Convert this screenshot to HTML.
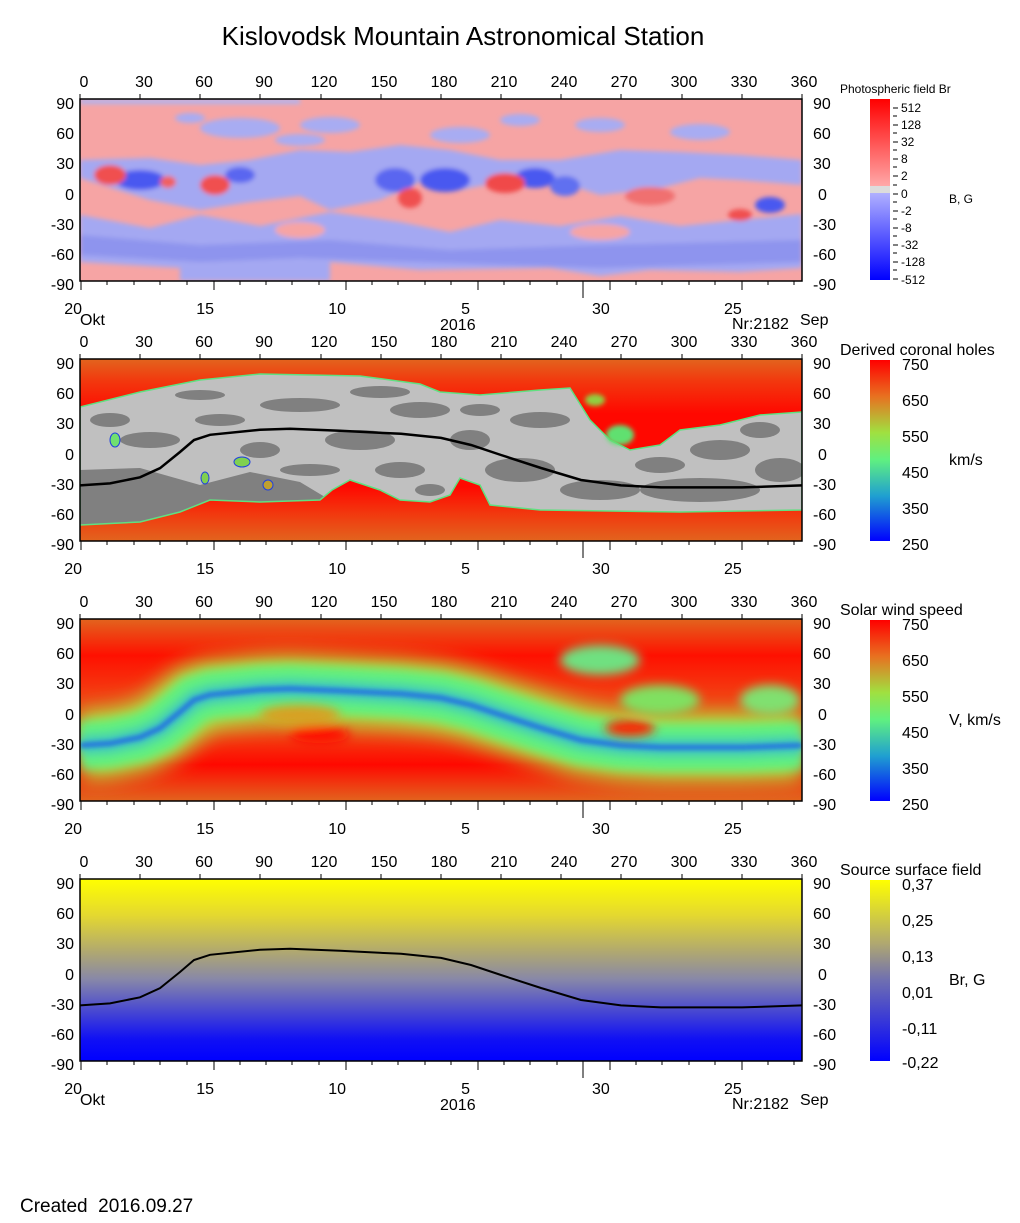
<!DOCTYPE html>
<html><head><meta charset="utf-8"><style>
html,body{margin:0;padding:0;background:#fff}
svg{display:block}
text{font-family:"Liberation Sans",sans-serif;fill:#000}
</style></head><body>
<svg width="1020" height="1223" viewBox="0 0 1020 1223" xmlns="http://www.w3.org/2000/svg">
<defs>
<filter id="b2" filterUnits="userSpaceOnUse" x="0" y="0" width="1020" height="1223"><feGaussianBlur stdDeviation="2.5"/></filter>
<filter id="b4" filterUnits="userSpaceOnUse" x="0" y="0" width="1020" height="1223"><feGaussianBlur stdDeviation="5"/></filter>
<filter id="b8" filterUnits="userSpaceOnUse" x="0" y="0" width="1020" height="1223"><feGaussianBlur stdDeviation="10"/></filter>
<clipPath id="c1"><rect x="80" y="99" width="722" height="182"/></clipPath>
<clipPath id="c2"><rect x="80" y="359" width="722" height="182"/></clipPath>
<clipPath id="c3"><rect x="80" y="619" width="722" height="182"/></clipPath>
<clipPath id="gp"><path id="gpath" d="M80,407 L140,392 L200,380 L260,374 L360,376 L420,384 L440,392 L480,395 L540,390 L570,388 L590,420 L610,440 L630,450 L660,445 L680,430 L720,425 L760,415 L802,412 L802,510 L680,512 L540,510 L490,505 L480,485 L460,478 L450,495 L430,502 L400,500 L380,490 L350,480 L332,490 L320,500 L260,502 L210,500 L180,512 L140,522 L80,525 Z"/></clipPath>
<linearGradient id="g2" x1="0" y1="0" x2="0" y2="1">
<stop offset="0" stop-color="#e2641e"/><stop offset="0.12" stop-color="#f2380e"/><stop offset="0.3" stop-color="#ff0800"/><stop offset="0.7" stop-color="#ff0800"/><stop offset="0.85" stop-color="#f2380e"/><stop offset="1" stop-color="#e2641e"/></linearGradient>
<linearGradient id="g3" x1="0" y1="0" x2="0" y2="1">
<stop offset="0" stop-color="#e2641e"/><stop offset="0.2" stop-color="#ff1000"/><stop offset="0.4" stop-color="#f43a10"/><stop offset="0.6" stop-color="#f04a14"/><stop offset="0.8" stop-color="#ff0800"/><stop offset="1" stop-color="#e2641e"/></linearGradient>
<linearGradient id="g4" x1="0" y1="0" x2="0" y2="1">
<stop offset="0" stop-color="#ffff00"/><stop offset="0.2" stop-color="#e4d830"/><stop offset="0.4" stop-color="#b0a870"/><stop offset="0.55" stop-color="#8888a8"/><stop offset="0.72" stop-color="#4a4ad0"/><stop offset="0.88" stop-color="#1010f4"/><stop offset="1" stop-color="#0000ff"/></linearGradient>
<linearGradient id="cb1" x1="0" y1="0" x2="0" y2="1">
<stop offset="0" stop-color="#ff0000"/><stop offset="0.48" stop-color="#ffa8a8"/><stop offset="0.48" stop-color="#dcdcdc"/><stop offset="0.52" stop-color="#dcdcdc"/><stop offset="0.52" stop-color="#b0b0ff"/><stop offset="1" stop-color="#0000ff"/></linearGradient>
<linearGradient id="cbr" x1="0" y1="0" x2="0" y2="1">
<stop offset="0" stop-color="#ff0000"/><stop offset="0.2" stop-color="#e87020"/><stop offset="0.4" stop-color="#a0e040"/><stop offset="0.55" stop-color="#60f080"/><stop offset="0.75" stop-color="#20a0d0"/><stop offset="1" stop-color="#0000ff"/></linearGradient>
<linearGradient id="cb4" x1="0" y1="0" x2="0" y2="1">
<stop offset="0" stop-color="#ffff00"/><stop offset="0.35" stop-color="#b0a870"/><stop offset="0.55" stop-color="#7070b0"/><stop offset="1" stop-color="#0000ff"/></linearGradient>
<path id="nl" d="M80,225.4 L110,223.4 L140,217.3 L160,208.2 L180,192 L194,180 L210,174.8 L260,169.8 L290,168.8 L340,170.8 L401,173.8 L441,177.9 L471,185 L501,195 L541,208 L581,220 L621,225.4 L661,227.4 L742,227.4 L802,225.4" fill="none"/>
</defs>

<text x="463" y="45" font-size="26" text-anchor="middle">Kislovodsk Mountain Astronomical Station</text>

<!-- PANEL 1 -->
<g clip-path="url(#c1)">
<rect x="80" y="99" width="722" height="182" fill="#f6a4a4"/>
<g filter="url(#b2)">
<rect x="80" y="99" width="220" height="5" fill="#b0b4f0"/>
<path d="M80,160 L150,158 L200,165 L250,160 L300,150 L350,152 L400,145 L450,150 L500,160 L560,160 L620,150 L680,152 L740,155 L802,160 L802,185 L740,180 L700,178 L660,188 L600,195 L560,182 L500,182 L450,192 L420,182 L380,200 L330,210 L300,196 L250,202 L200,210 L150,200 L80,178 Z" fill="#a4a8f2"/>
<path d="M80,215 L150,228 L200,215 L260,226 L330,212 L400,222 L450,232 L500,220 L560,226 L620,216 L680,226 L740,220 L802,214 L802,268 L740,272 L650,270 L600,276 L550,268 L420,270 L330,262 L330,281 L180,281 L180,268 L80,262 Z" fill="#a4a8f2"/>
<path d="M80,235 L200,245 L330,240 L450,250 L600,245 L802,240 L802,262 L600,268 L420,262 L300,258 L200,262 L80,255 Z" fill="#8e94ee"/>
<ellipse cx="240" cy="128" rx="40" ry="10" fill="#a8acf2"/>
<ellipse cx="330" cy="125" rx="30" ry="8" fill="#a8acf2"/>
<ellipse cx="460" cy="135" rx="30" ry="8" fill="#a8acf2"/>
<ellipse cx="600" cy="125" rx="25" ry="7" fill="#a8acf2"/>
<ellipse cx="700" cy="132" rx="30" ry="8" fill="#a8acf2"/>
<ellipse cx="190" cy="118" rx="15" ry="5" fill="#a8acf2"/>
<ellipse cx="520" cy="120" rx="20" ry="6" fill="#a8acf2"/>
<ellipse cx="300" cy="140" rx="25" ry="6" fill="#a8acf2"/>
<ellipse cx="140" cy="180" rx="25" ry="10" fill="#4a58f0"/>
<ellipse cx="240" cy="175" rx="15" ry="8" fill="#5a66f0"/>
<ellipse cx="395" cy="180" rx="20" ry="12" fill="#5a66f0"/>
<ellipse cx="445" cy="180" rx="25" ry="12" fill="#4a58f0"/>
<ellipse cx="535" cy="178" rx="20" ry="10" fill="#4a58f0"/>
<ellipse cx="565" cy="186" rx="15" ry="10" fill="#6070f0"/>
<ellipse cx="770" cy="205" rx="15" ry="8" fill="#4a58f0"/>
<ellipse cx="110" cy="175" rx="16" ry="10" fill="#f05050"/>
<ellipse cx="168" cy="182" rx="8" ry="6" fill="#f06060"/>
<ellipse cx="215" cy="185" rx="15" ry="10" fill="#f05050"/>
<ellipse cx="410" cy="198" rx="12" ry="10" fill="#f05050"/>
<ellipse cx="505" cy="183" rx="20" ry="10" fill="#f04848"/>
<ellipse cx="650" cy="196" rx="25" ry="9" fill="#f07070"/>
<ellipse cx="740" cy="215" rx="12" ry="6" fill="#f05050"/>
<ellipse cx="300" cy="230" rx="25" ry="8" fill="#f6a4a4"/>
<ellipse cx="600" cy="232" rx="30" ry="8" fill="#f6a4a4"/>
</g>
</g>
<rect x="80" y="99" width="722" height="182" fill="none" stroke="#000" stroke-width="1.5"/>

<!-- PANEL 2 -->
<g clip-path="url(#c2)">
<rect x="80" y="359" width="722" height="182" fill="url(#g2)"/>
<g clip-path="url(#gp)">
<rect x="80" y="359" width="722" height="182" fill="#c0c0c0"/>
<g fill="#808080">
<path d="M80,470 L140,468 L200,485 L250,472 L300,482 L330,500 L80,530 Z"/>
<ellipse cx="150" cy="440" rx="30" ry="8"/><ellipse cx="220" cy="420" rx="25" ry="6"/>
<ellipse cx="300" cy="405" rx="40" ry="7"/><ellipse cx="360" cy="440" rx="35" ry="10"/>
<ellipse cx="420" cy="410" rx="30" ry="8"/><ellipse cx="470" cy="440" rx="20" ry="10"/>
<ellipse cx="260" cy="450" rx="20" ry="8"/><ellipse cx="310" cy="470" rx="30" ry="6"/>
<ellipse cx="400" cy="470" rx="25" ry="8"/><ellipse cx="520" cy="470" rx="35" ry="12"/>
<ellipse cx="540" cy="420" rx="30" ry="8"/><ellipse cx="600" cy="490" rx="40" ry="10"/>
<ellipse cx="700" cy="490" rx="60" ry="12"/><ellipse cx="720" cy="450" rx="30" ry="10"/>
<ellipse cx="780" cy="470" rx="25" ry="12"/><ellipse cx="200" cy="395" rx="25" ry="5"/>
<ellipse cx="380" cy="392" rx="30" ry="6"/><ellipse cx="110" cy="420" rx="20" ry="7"/>
<ellipse cx="480" cy="410" rx="20" ry="6"/><ellipse cx="660" cy="465" rx="25" ry="8"/>
<ellipse cx="760" cy="430" rx="20" ry="8"/><ellipse cx="430" cy="490" rx="15" ry="6"/>
</g>
<ellipse cx="115" cy="440" rx="5" ry="7" fill="#70e070" stroke="#2040e0"/>
<ellipse cx="242" cy="462" rx="8" ry="5" fill="#80d050" stroke="#2040e0"/>
<ellipse cx="205" cy="478" rx="4" ry="6" fill="#80d050" stroke="#2040e0"/>
<ellipse cx="268" cy="485" rx="5" ry="5" fill="#c0a030" stroke="#2040e0"/>
</g>
<use href="#gpath" fill="none" stroke="#60e080" stroke-width="1.5"/>
<ellipse cx="620" cy="435" rx="14" ry="10" fill="#60e070" filter="url(#b2)"/>
<ellipse cx="595" cy="400" rx="10" ry="6" fill="#90d040" filter="url(#b2)"/>
<g transform="translate(0,260)"><use href="#nl" stroke="#000" stroke-width="2.5"/></g>
</g>
<rect x="80" y="359" width="722" height="182" fill="none" stroke="#000" stroke-width="1.5"/>

<!-- PANEL 3 -->
<g clip-path="url(#c3)">
<rect x="80" y="619" width="722" height="182" fill="url(#g3)"/>
<g transform="translate(0,520)">
<use href="#nl" stroke="#b0e040" stroke-width="70" filter="url(#b8)"/>
<use href="#nl" stroke="#60f080" stroke-width="48" filter="url(#b4)"/>
<use href="#nl" stroke="#40c8c0" stroke-width="18" filter="url(#b4)"/>
<use href="#nl" stroke="#2070e0" stroke-width="5" filter="url(#b2)"/>
</g>
<g filter="url(#b4)">
<ellipse cx="600" cy="660" rx="40" ry="15" fill="#70e080"/>
<ellipse cx="660" cy="700" rx="40" ry="15" fill="#80e060"/>
<ellipse cx="320" cy="735" rx="30" ry="8" fill="#ff1000"/>
<ellipse cx="770" cy="700" rx="30" ry="15" fill="#80e070"/>
<ellipse cx="300" cy="715" rx="40" ry="10" fill="#d8a020"/>
<ellipse cx="630" cy="728" rx="25" ry="8" fill="#ff2000"/>
</g>
</g>
<rect x="80" y="619" width="722" height="182" fill="none" stroke="#000" stroke-width="1.5"/>

<!-- PANEL 4 -->
<rect x="80" y="879" width="722" height="182" fill="url(#g4)"/>
<g transform="translate(0,780)"><use href="#nl" stroke="#000" stroke-width="2"/></g>
<rect x="80" y="879" width="722" height="182" fill="none" stroke="#000" stroke-width="1.5"/>

<!-- axes -->
<g id="axes" font-size="16">
<g stroke="#000" stroke-width="1">
<path d="M80,99v-5M140,99v-5M200,99v-5M260,99v-5M321,99v-5M381,99v-5M441,99v-5M501,99v-5M561,99v-5M621,99v-5M682,99v-5M742,99v-5M802,99v-5"/>
<path d="M81,281v9M107,281v4M134,281v4M160,281v4M187,281v4M214,281v9M240,281v4M266,281v4M292,281v4M319,281v4M346,281v9M372,281v4M398,281v4M425,281v4M451,281v4M478,281v9M504,281v4M530,281v4M557,281v4M583,281v17M610,281v9M636,281v4M662,281v4M689,281v4M715,281v4M742,281v9M768,281v4M794,281v4"/>
</g>
<g text-anchor="middle">
<text x="84" y="87">0</text><text x="144" y="87">30</text><text x="204" y="87">60</text><text x="264" y="87">90</text><text x="324" y="87">120</text><text x="384" y="87">150</text><text x="444" y="87">180</text><text x="504" y="87">210</text><text x="564" y="87">240</text><text x="624" y="87">270</text><text x="684" y="87">300</text><text x="744" y="87">330</text><text x="804" y="87">360</text>
</g>
<g text-anchor="end">
<text x="74" y="109">90</text><text x="74" y="139">60</text><text x="74" y="169">30</text><text x="74" y="200">0</text><text x="74" y="230">-30</text><text x="74" y="260">-60</text><text x="74" y="290">-90</text>
<text x="82" y="314">20</text><text x="214" y="314">15</text><text x="346" y="314">10</text><text x="470" y="314">5</text>
</g>
<g>
<text x="813" y="109">90</text><text x="813" y="139">60</text><text x="813" y="169">30</text><text x="818" y="200">0</text><text x="813" y="230">-30</text><text x="813" y="260">-60</text><text x="813" y="290">-90</text>
<text x="592" y="314">30</text><text x="724" y="314">25</text>
</g>
</g>
<use href="#axes" y="260"/>
<use href="#axes" y="520"/>
<use href="#axes" y="780"/>

<g font-size="16">
<text x="80" y="325">Okt</text><text x="440" y="330">2016</text><text x="732" y="329">Nr:2182</text><text x="800" y="325">Sep</text>
<text x="80" y="1105">Okt</text><text x="440" y="1110">2016</text><text x="732" y="1109">Nr:2182</text><text x="800" y="1105">Sep</text>
</g>

<!-- colorbars -->
<text x="840" y="93" font-size="12">Photospheric field Br</text>
<rect x="870" y="99" width="20" height="181" fill="url(#cb1)"/>
<g stroke="#000"><path d="M893,108h5M893,125h5M893,142h5M893,159h5M893,176h5M893,194h5M893,211h5M893,228h5M893,245h5M893,262h5M893,279h5M893,116h4M893,133h4M893,150h4M893,167h4M893,185h4M893,202h4M893,219h4M893,236h4M893,253h4M893,270h4"/></g>
<g font-size="12"><text x="901" y="112">512</text><text x="901" y="129">128</text><text x="901" y="146">32</text><text x="901" y="163">8</text><text x="901" y="180">2</text><text x="901" y="198">0</text><text x="901" y="215">-2</text><text x="901" y="232">-8</text><text x="901" y="249">-32</text><text x="901" y="266">-128</text><text x="901" y="284">-512</text>
<text x="949" y="203">B, G</text></g>

<g font-size="16">
<text x="840" y="355">Derived coronal holes</text>
<rect x="870" y="360" width="20" height="181" fill="url(#cbr)"/>
<text x="902" y="370">750</text><text x="902" y="406">650</text><text x="902" y="442">550</text><text x="902" y="478">450</text><text x="902" y="514">350</text><text x="902" y="550">250</text>
<text x="949" y="465">km/s</text>

<text x="840" y="615">Solar wind speed</text>
<rect x="870" y="620" width="20" height="181" fill="url(#cbr)"/>
<text x="902" y="630">750</text><text x="902" y="666">650</text><text x="902" y="702">550</text><text x="902" y="738">450</text><text x="902" y="774">350</text><text x="902" y="810">250</text>
<text x="949" y="725">V, km/s</text>

<text x="840" y="875">Source surface field</text>
<rect x="870" y="880" width="20" height="181" fill="url(#cb4)"/>
<text x="902" y="890">0,37</text><text x="902" y="926">0,25</text><text x="902" y="962">0,13</text><text x="902" y="998">0,01</text><text x="902" y="1034">-0,11</text><text x="902" y="1068">-0,22</text>
<text x="949" y="985">Br, G</text>
</g>

<text x="20" y="1212" font-size="19">Created&#160; 2016.09.27</text>
</svg>
</body></html>
